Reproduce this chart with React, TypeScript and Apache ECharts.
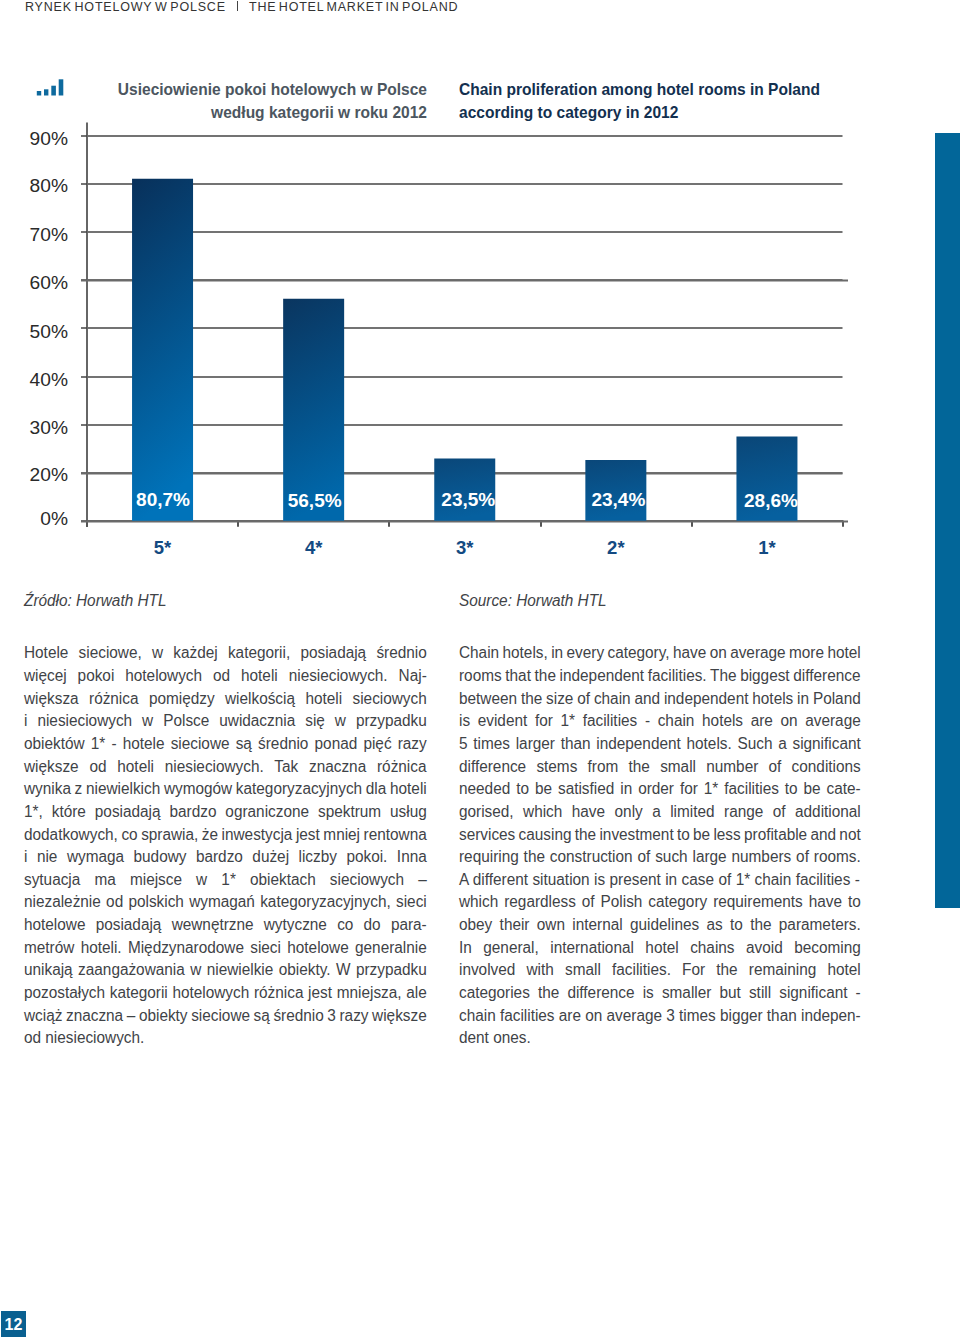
import React, { useEffect, useRef } from "react";
import * as echarts from "echarts";

const categories = ["5*", "4*", "3*", "2*", "1*"];
const printedValues = ["80,7%", "56,5%", "23,5%", "23,4%", "28,6%"];
// Bar tops as read against the drawn axis (the printed axis skips 10%).
const barLevels = [81.0, 56.1, 22.9, 22.6, 27.5];
const axisLevels = [0, 20, 30, 40, 50, 60, 70, 80, 90];
const emphasisedLevels = [0, 20, 60];

const headerPl = "RYNEK HOTELOWY W POLSCE";
const headerEn = "THE HOTEL MARKET IN POLAND";
const titlePl = ["Usieciowienie pokoi hotelowych w Polsce", "według kategorii w roku 2012"];
const titleEn = ["Chain proliferation among hotel rooms in Poland", "according to category in 2012"];
const sourcePl = "Źródło: Horwath HTL";
const sourceEn = "Source: Horwath HTL";
const pageNumber = "12";

const leftLines = [
  "Hotele sieciowe, w każdej kategorii, posiadają średnio",
  "więcej pokoi hotelowych od hoteli niesieciowych. Naj-",
  "większa różnica pomiędzy wielkością hoteli sieciowych",
  "i niesieciowych w Polsce uwidacznia się w przypadku",
  "obiektów 1* - hotele sieciowe są średnio ponad pięć razy",
  "większe od hoteli niesieciowych. Tak znaczna różnica",
  "wynika z niewielkich wymogów kategoryzacyjnych dla hoteli",
  "1*, które posiadają bardzo ograniczone spektrum usług",
  "dodatkowych, co sprawia, że inwestycja jest mniej rentowna",
  "i nie wymaga budowy bardzo dużej liczby pokoi. Inna",
  "sytuacja ma miejsce w 1* obiektach sieciowych –",
  "niezależnie od polskich wymagań kategoryzacyjnych, sieci",
  "hotelowe posiadają wewnętrzne wytyczne co do para-",
  "metrów hoteli. Międzynarodowe sieci hotelowe generalnie",
  "unikają zaangażowania w niewielkie obiekty. W przypadku",
  "pozostałych kategorii hotelowych różnica jest mniejsza, ale",
  "wciąż znaczna – obiekty sieciowe są średnio 3 razy większe",
  "od niesieciowych.",
];
const rightLines = [
  "Chain hotels, in every category, have on average more hotel",
  "rooms that the independent facilities. The biggest difference",
  "between the size of chain and independent hotels in Poland",
  "is evident for 1* facilities - chain hotels are on average",
  "5 times larger than independent hotels. Such a significant",
  "difference stems from the small number of conditions",
  "needed to be satisfied in order for 1* facilities to be cate-",
  "gorised, which have only a limited range of additional",
  "services causing the investment to be less profitable and not",
  "requiring the construction of such large numbers of rooms.",
  "A different situation is present in case of 1* chain facilities -",
  "which regardless of Polish category requirements have to",
  "obey their own internal guidelines as to the parameters.",
  "In general, international hotel chains avoid becoming",
  "involved with small facilities. For the remaining hotel",
  "categories the difference is smaller but still significant -",
  "chain facilities are on average 3 times bigger than indepen-",
  "dent ones.",
];

const FONT = "'Liberation Sans', Arial, sans-serif";
const BODY = "#3f4347";
const BODY_SIZE = 16;
const BODY_SCALE = 0.96;
const TITLE_SCALE = 0.972;
const HEADER_SIZE = 12.5;

// The printed axis is evenly spaced but skips 10%, so the scale is piecewise.
const axisPosition = (v: number) => {
  for (let i = 1; i < axisLevels.length; i++) {
    if (v <= axisLevels[i]) {
      return i - 1 + (v - axisLevels[i - 1]) / (axisLevels[i] - axisLevels[i - 1]);
    }
  }
  return axisLevels.length - 1;
};

const barGradients = [
  ["#08305a", "#0073ba"],
  ["#0a355f", "#0068ab"],
  ["#0a4779", "#06609f"],
  ["#0a4779", "#06609f"],
  ["#0a4677", "#06609f"],
];

const labelOffsets = [[0.5, -2], [1, -1], [3.5, -2], [2.5, -2], [4, -1]];
// Vertical nudge of each printed axis label from its rule, in pixels.
const tickLabelShifts = [-2, 1.5, 3, 3, 3, 3, 3, 2, 3];

function measure(text: string, font: string) {
  const ctx = document.createElement("canvas").getContext("2d")!;
  ctx.font = font;
  return ctx.measureText(text).width;
}

export default function App() {
  const ref = useRef<HTMLDivElement>(null);
  useEffect(() => {
    document.body.style.margin = "0";
    const chart = echarts.init(ref.current!, null, { renderer: "svg", width: 960, height: 1338 });

    const LEFT = 87, RIGHT = 842.5, TOP = 135.5, BOTTOM = 520.7;

    const rich: any = {};
    tickLabelShifts.forEach((d, i) => {
      rich[`t${i}`] = {
        color: "#2a2a2a",
        fontFamily: FONT,
        fontSize: 19.2,
        padding: d >= 0 ? [2 * d, 0, 0, 0] : [0, 0, -2 * d, 0],
      };
    });

    const option: any = {
      animation: false,
      backgroundColor: "#ffffff",
      grid: { left: LEFT, top: TOP, width: RIGHT - LEFT, height: BOTTOM - TOP, containLabel: false },
      xAxis: {
        type: "category",
        data: categories,
        axisLine: { show: true, lineStyle: { color: "#666666", width: 2 } },
        axisTick: { show: true, length: 6, alignWithLabel: false, lineStyle: { color: "#555555", width: 2 } },
        axisLabel: {
          color: "#134a82",
          fontFamily: FONT,
          fontWeight: "bold",
          fontSize: 18.5,
          margin: 17,
        },
        splitLine: { show: false },
      },
      yAxis: {
        type: "value",
        min: 0,
        max: axisLevels.length - 1,
        interval: 1,
        axisLine: { show: true, onZero: false, lineStyle: { color: "#666666", width: 2 } },
        axisTick: { show: true, length: 6, lineStyle: { color: "#444444", width: 1.5 } },
        axisLabel: {
          margin: 19,
          rich,
          formatter: (v: number) => `{t${v}|${axisLevels[v]}%}`,
        },
        splitLine: { show: true, lineStyle: { color: "#444444", width: 1.5 } },
      },
      series: [
        {
          type: "bar",
          barWidth: 61,
          z: 3,
          data: barLevels.map((v, i) => ({
            value: axisPosition(v),
            itemStyle: {
              color: new echarts.graphic.LinearGradient(0, 0, 0.15, 1, [
                { offset: 0, color: barGradients[i][0] },
                { offset: 1, color: barGradients[i][1] },
              ]),
            },
            label: {
              show: true,
              position: "insideBottom",
              distance: 10,
              offset: labelOffsets[i],
              color: "#ffffff",
              fontFamily: FONT,
              fontWeight: "bold",
              fontSize: 19,
              formatter: () => printedValues[i],
            },
          })),
        },
      ],
    };
    chart.setOption(option);

    const yOf = (lvl: number) => chart.convertToPixel({ yAxisIndex: 0 }, axisPosition(lvl)) as number;

    const text = (
      txt: string,
      x: number,
      y: number,
      o: { fontSize?: number; fontWeight?: string; fontStyle?: string; fill?: string; align?: string; scaleX?: number } = {}
    ) => ({
      type: "text",
      x,
      y,
      scaleX: o.scaleX ?? 1,
      silent: true,
      style: {
        text: txt,
        fontFamily: FONT,
        fontSize: o.fontSize ?? BODY_SIZE,
        fontWeight: o.fontWeight ?? "normal",
        fontStyle: o.fontStyle ?? "normal",
        fill: o.fill ?? BODY,
        align: o.align ?? "left",
        verticalAlign: "middle",
      },
    });

    const elements: any[] = [];
    // Axis extensions and the heavier grey rules.
    elements.push({
      type: "line", silent: true, z: 0,
      shape: { x1: LEFT, y1: 122.5, x2: LEFT, y2: TOP },
      style: { stroke: "#666666", lineWidth: 2 },
    });
    elements.push({
      type: "line", silent: true, z: 0,
      shape: { x1: LEFT, y1: BOTTOM, x2: LEFT, y2: 527 },
      style: { stroke: "#666666", lineWidth: 2 },
    });
    emphasisedLevels.forEach((lvl) => {
      const y = Math.round(yOf(lvl)) + 0.5;
      const long = lvl !== 20;
      elements.push({
        type: "line", silent: true, z: 1,
        shape: { x1: 81, y1: y, x2: long ? 848 : RIGHT, y2: y },
        style: { stroke: "#6a6a6a", lineWidth: 2 },
      });
    });

    // Header.
    elements.push(text(headerPl, 25, 6.5, { fontSize: HEADER_SIZE, fill: "#333333" }));
    elements.push({
      type: "line", silent: true,
      shape: { x1: 237.5, y1: 1, x2: 237.5, y2: 11 },
      style: { stroke: "#444444", lineWidth: 1 },
    });
    elements.push(text(headerEn, 249, 6.5, { fontSize: HEADER_SIZE, fill: "#333333" }));

    // Icon.
    [
      [36.8, 91, 4.4],
      [44, 89.3, 4.4],
      [51.3, 85.7, 4.6],
      [58.7, 79.3, 4.6],
    ].forEach(([x, y, w]) =>
      elements.push({
        type: "rect", silent: true,
        shape: { x, y, width: w, height: 95.5 - y },
        style: { fill: "#0e6a9e" },
      })
    );

    // Titles.
    titlePl.forEach((t, i) =>
      elements.push(text(t, 427, 89.5 + i * 23, { scaleX: TITLE_SCALE, fontWeight: "bold", fill: "#4c5660", align: "right" }))
    );
    titleEn.forEach((t, i) =>
      elements.push(text(t, 459, 89.5 + i * 23, { scaleX: TITLE_SCALE, fontWeight: "bold", fill: "#13304f" }))
    );

    // Sources.
    elements.push(text(sourcePl, 24, 600.5, { scaleX: BODY_SCALE, fontStyle: "italic" }));
    elements.push(text(sourceEn, 459, 600.5, { scaleX: BODY_SCALE, fontStyle: "italic" }));

    // Body columns.
    const lineY = (i: number) => 652.7 + i * 22.65;
    leftLines.forEach((t, i) => elements.push(text(t, 24, lineY(i), { scaleX: BODY_SCALE })));
    rightLines.forEach((t, i) => elements.push(text(t, 459, lineY(i), { scaleX: BODY_SCALE })));

    // Side band and page number.
    elements.push({
      type: "rect", silent: true,
      shape: { x: 935, y: 133, width: 25, height: 775 },
      style: { fill: "#026699" },
    });
    elements.push({
      type: "rect", silent: true,
      shape: { x: 1, y: 1311, width: 25, height: 26 },
      style: { fill: "#0a6090" },
    });
    elements.push(text(pageNumber, 13.5, 1324.5, { fontWeight: "bold", fill: "#ffffff", align: "center" }));

    chart.setOption({ graphic: { elements } });

    // Justify the text the way the page's typesetting does.
    const svgTexts = Array.from(ref.current!.querySelectorAll("text")) as SVGTextElement[];
    const bodyFont = `${BODY_SIZE}px ${FONT}`;
    const fitWord = (lines: string[], width: number) => {
      lines.forEach((line, i) => {
        if (i === lines.length - 1) return;
        const el = svgTexts.find((t) => t.textContent === line);
        if (!el) return;
        const gaps = line.split(" ").length - 1;
        el.style.wordSpacing = `${(width / BODY_SCALE - measure(line, bodyFont)) / gaps}px`;
      });
    };
    fitWord(leftLines, 403);
    fitWord(rightLines, 402);
    const fitHeader = (line: string, width: number) => {
      const el = svgTexts.find((t) => t.textContent === line);
      if (!el) return;
      const font = `${HEADER_SIZE}px ${FONT}`;
      const natural = measure(line, font);
      const tracking = 0.8;
      const gaps = line.split(" ").length - 1;
      el.style.letterSpacing = `${tracking}px`;
      el.style.wordSpacing = `${(width - natural - tracking * line.length) / gaps}px`;
    };
    fitHeader(headerPl, 201);
    fitHeader(headerEn, 210);

    return () => chart.dispose();
  }, []);

  return <div ref={ref} style={{ width: 960, height: 1338, position: "absolute", left: 0, top: 0 }} />;
}
